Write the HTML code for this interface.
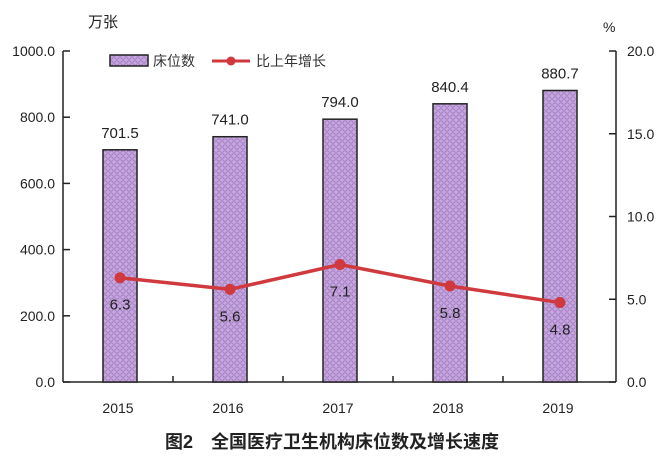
<!DOCTYPE html>
<html><head><meta charset="utf-8"><style>
body{margin:0;background:#fff;}
svg{display:block;font-family:"Liberation Sans","Noto Sans CJK SC",sans-serif;}
</style></head><body>
<svg width="664" height="464" viewBox="0 0 664 464">
<defs>
<pattern id="hatch" width="6" height="6" patternUnits="userSpaceOnUse">
<rect width="6" height="6" fill="#c8a6e0"/>
<circle cx="3" cy="3" r="2.2" fill="none" stroke="#9a78b8" stroke-width="0.8"/>
</pattern>
</defs>
<g id="axes"></g>
<g id="bars"></g>
<g id="line"></g>
<text x="88" y="27" font-size="15" fill="#222">万张</text>
<text x="603" y="32" font-size="14" fill="#222">%</text>
<g>
<rect x="110" y="55" width="38" height="11" fill="url(#hatch)" stroke="#222" stroke-width="1.5"/>
<text x="153" y="66" font-size="14" fill="#333">床位数</text>
<line x1="212" y1="61" x2="250" y2="61" stroke="#d0393e" stroke-width="3"/>
<circle cx="231" cy="61" r="4.5" fill="#d0393e"/>
<text x="256" y="66" font-size="14" fill="#333">比上年增长</text>
</g>
<text x="332" y="448" font-size="18" font-weight="bold" text-anchor="middle" fill="#222">图2　全国医疗卫生机构床位数及增长速度</text>
</svg>
<script>
const categories=["2015","2016","2017","2018","2019"];
const beds=[701.5,741.0,794.0,840.4,880.7];
const growth=[6.3,5.6,7.1,5.8,4.8];
const leftTicks=[0,200,400,600,800,1000];
const rightTicks=[0,5,10,15,20];
const NS="http://www.w3.org/2000/svg";
const X0=63,X1=613,XR=616,Y0=382,Y1=51;
const band=(X1-X0)/categories.length;
const xc=i=>X0+band*(i+0.5);
const yL=v=>Y0-(v/1000)*(Y0-Y1);
const yR=v=>Y0-(v/20)*(Y0-Y1);
function mk(tag,attrs,parent,text){const e=document.createElementNS(NS,tag);for(const k in attrs)e.setAttribute(k,attrs[k]);if(text!==undefined)e.textContent=text;parent.appendChild(e);return e;}
const axes=document.getElementById('axes'),bars=document.getElementById('bars'),line=document.getElementById('line');
let e;
e=mk('line',{x1:X0,y1:Y1,x2:X0,y2:Y0,stroke:'#222','stroke-width':1.5},axes);

e=mk('line',{x1:XR,y1:Y1,x2:XR,y2:Y0,stroke:'#222','stroke-width':1.5},axes);

e=mk('line',{x1:X0,y1:Y0,x2:XR,y2:Y0,stroke:'#222','stroke-width':1.5},axes);

leftTicks.forEach(v=>{const y=yL(v);
e=mk('line',{x1:X0,y1:y,x2:X0+7,y2:y,stroke:'#222','stroke-width':1.5},axes);

e=mk('text',{x:X0-8,y:y+5,'font-size':14,'text-anchor':'end',fill:'#222'},axes,v.toFixed(1));
});
rightTicks.forEach(v=>{const y=yR(v);
e=mk('line',{x1:XR-7,y1:y,x2:XR,y2:y,stroke:'#222','stroke-width':1.5},axes);

e=mk('text',{x:XR+11,y:y+5,'font-size':14,fill:'#222'},axes,v.toFixed(1));
});
for(let i=1;i<categories.length;i++){const x=X0+band*i;
e=mk('line',{x1:x,y1:Y0-6,x2:x,y2:Y0,stroke:'#222','stroke-width':1.5},axes);
}
categories.forEach((c,i)=>{
e=mk('text',{x:xc(i),y:413,'font-size':14,'text-anchor':'middle',fill:'#222'},axes,c);

const bw=34,y=yL(beds[i]);
e=mk('rect',{x:xc(i)-bw/2+2,y:y,width:bw,height:Y0-y,fill:'url(#hatch)',stroke:'#222','stroke-width':1.5},bars);

e=mk('text',{x:xc(i)+2,y:y-12,'font-size':15,'text-anchor':'middle',fill:'#222'},bars,beds[i].toFixed(1));
});
const pts=growth.map((v,i)=>[xc(i)+2,yR(v)]);
e=mk('polyline',{points:pts.map(p=>p.join(',')).join(' '),fill:'none',stroke:'#d0393e','stroke-width':3.5},line);

pts.forEach((p,i)=>{
e=mk('circle',{cx:p[0],cy:p[1],r:5.5,fill:'#d0393e'},line);

e=mk('text',{x:p[0],y:p[1]+32,'font-size':15,'text-anchor':'middle',fill:'#222'},line,growth[i].toFixed(1));
});
</script>
</body></html>
